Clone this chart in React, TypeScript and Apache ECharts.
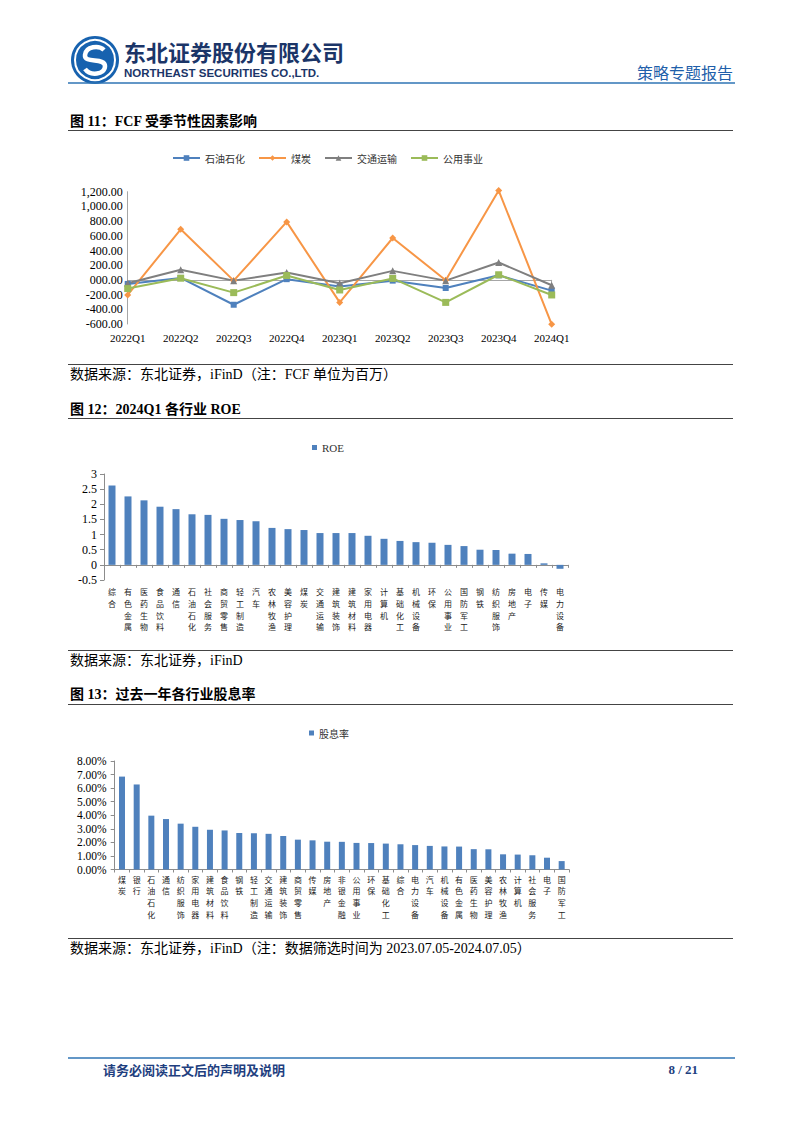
import React, { useEffect, useRef } from "react";
import * as echarts from "echarts";

// ---------- data ----------
const quarters = ["2022Q1", "2022Q2", "2022Q3", "2022Q4", "2023Q1", "2023Q2", "2023Q3", "2023Q4", "2024Q1"];
const fcfOil = [-55, 27, -338, 10, -91, -10, -110, 62, -146];
const fcfCoal = [-205, 689, -10, 789, -306, 570, -5, 1215, -605];
const fcfTransport = [-45, 137, -10, 100, -45, 123, -10, 237, -73];
const fcfUtility = [-118, 23, -173, 59, -137, 20, -306, 70, -205];
const fcfTicks = { min: -600, max: 1200, step: 200 };

const roeIndustries = ["综合", "有色金属", "医药生物", "食品饮料", "通信", "石油石化", "社会服务", "商贸零售", "轻工制造", "汽车", "农林牧渔", "美容护理", "煤炭", "交通运输", "建筑装饰", "建筑材料", "家用电器", "计算机", "基础化工", "机械设备", "环保", "公用事业", "国防军工", "钢铁", "纺织服饰", "房地产", "电子", "传媒", "电力设备"];
const roeValues = [2.62, 2.26, 2.13, 1.92, 1.84, 1.67, 1.65, 1.52, 1.48, 1.44, 1.22, 1.18, 1.15, 1.05, 1.05, 1.05, 0.96, 0.86, 0.79, 0.75, 0.73, 0.66, 0.62, 0.5, 0.49, 0.37, 0.36, 0.05, -0.13];
const roeTicks = { min: -0.5, max: 3, step: 0.5 };

const divIndustries = ["煤炭", "银行", "石油石化", "通信", "纺织服饰", "家用电器", "建筑材料", "食品饮料", "钢铁", "轻工制造", "交通运输", "建筑装饰", "商贸零售", "传媒", "房地产", "非银金融", "公用事业", "环保", "基础化工", "综合", "电力设备", "汽车", "机械设备", "有色金属", "医药生物", "美容护理", "农林牧渔", "计算机", "社会服务", "电子", "国防军工"];
const divValues = [6.85, 6.27, 3.97, 3.72, 3.38, 3.15, 2.93, 2.88, 2.69, 2.68, 2.63, 2.47, 2.2, 2.15, 2.05, 2.04, 1.96, 1.95, 1.91, 1.86, 1.8, 1.74, 1.7, 1.69, 1.5, 1.49, 1.12, 1.1, 1.05, 0.87, 0.62];
const divTicks = { min: 0, max: 8, step: 1 };

// ---------- styles ----------
const SERIF = "'Liberation Serif', 'Times New Roman', 'Noto Sans CJK SC', serif";
const CJK = "'Noto Sans CJK SC', sans-serif";
const BLUE = "#4F81BD";
const ORANGE = "#F79646";
const GRAY = "#7F7F7F";
const GREEN = "#9BBB59";
const AXIS = "#8C8C8C";

echarts.graphic.registerShape(
  "logoS",
  echarts.graphic.extendPath("M 9 -10 C 4 -15 -9 -14 -10 -5 C -11 4 10 -3 10 6 C 10 15 -5 16 -10 9", {})
);

function fmtFcf(v: number): string {
  if (v === 0) return "000.00";
  const s = Math.abs(v).toLocaleString("en-US", { minimumFractionDigits: 2, maximumFractionDigits: 2 });
  return (v < 0 ? "-" : "") + s;
}
const stacked = (v: string) => v.split("").join("\n");

function txt(text: string, x: number, y: number, font: string, fill = "#000", align = "left") {
  return { type: "text", silent: true, style: { text, x, y, font, fill, align, verticalAlign: "middle" } };
}
function hline(x1: number, x2: number, y: number, stroke: string, lineWidth = 1) {
  return { type: "line", silent: true, shape: { x1, y1: y, x2, y2: y }, style: { stroke, lineWidth } };
}

export default function App() {
  const ref = useRef<HTMLDivElement>(null);
  useEffect(() => {
    if (!ref.current) return;
    const chart = echarts.init(ref.current, undefined, { renderer: "svg" });
    const lineSeries = (name: string, data: number[], color: string, symbol: string, size: number) => ({
      name,
      type: "line",
      xAxisIndex: 0,
      yAxisIndex: 0,
      data,
      symbol,
      symbolSize: size,
      clip: false,
      lineStyle: { color, width: 2 },
      itemStyle: { color },
    });
    const catLabel = {
      interval: 0, fontSize: 8, lineHeight: 11.6, fontFamily: CJK, color: "#222",
      formatter: stacked, verticalAlign: "top",
    };
    const option: any = {
      animation: false,
      backgroundColor: "#fff",
      grid: [
        { left: 127.7, top: 191.7, width: 424, height: 132.3 },
        { left: 104, top: 474, width: 464, height: 106 },
        { left: 114.7, top: 761, width: 454.3, height: 108.5 },
      ],
      legend: [
        {
          data: ["石油石化", "煤炭", "交通运输", "公用事业"],
          left: 172, top: 153, padding: 0, itemWidth: 27, itemHeight: 7, itemGap: 13,
          textStyle: { fontSize: 10, fontFamily: CJK, color: "#333" },
        },
        {
          data: ["ROE"], left: 312, top: 442, padding: 0, icon: "rect", itemWidth: 5, itemHeight: 5,
          textStyle: { fontSize: 11, fontFamily: SERIF, color: "#333" },
        },
        {
          data: ["股息率"], left: 309, top: 728, padding: 0, icon: "rect", itemWidth: 5, itemHeight: 5,
          textStyle: { fontSize: 10, fontFamily: CJK, color: "#333" },
        },
      ],
      xAxis: [
        {
          gridIndex: 0, type: "category", data: quarters, boundaryGap: false,
          axisLine: { show: false, onZero: false }, axisTick: { show: false },
          axisLabel: { fontSize: 11, fontFamily: SERIF, color: "#000", margin: 8 },
        },
        {
          gridIndex: 0, type: "category", data: quarters, boundaryGap: false, position: "bottom",
          axisLine: { show: true, onZero: true, lineStyle: { color: "#A6A6A6" } },
          axisTick: { show: true, length: 3, lineStyle: { color: "#A6A6A6" } },
          axisLabel: { show: false },
        },
        {
          gridIndex: 1, type: "category", data: roeIndustries,
          axisLine: { show: false, onZero: false }, axisTick: { show: false },
          axisLabel: { ...catLabel, margin: 6 },
        },
        {
          gridIndex: 1, type: "category", data: roeIndustries, position: "bottom",
          axisLine: { show: true, onZero: true, lineStyle: { color: AXIS } },
          axisTick: { show: true, length: 3, interval: 0, lineStyle: { color: AXIS } },
          axisLabel: { show: false },
        },
        {
          gridIndex: 2, type: "category", data: divIndustries,
          axisLine: { show: true, lineStyle: { color: AXIS } },
          axisTick: { show: true, length: 3, interval: 0, lineStyle: { color: AXIS } },
          axisLabel: { ...catLabel, margin: 4 },
        },
      ],
      yAxis: [
        {
          gridIndex: 0, type: "value", min: fcfTicks.min, max: fcfTicks.max, interval: fcfTicks.step,
          axisLine: { show: true, lineStyle: { color: "#A6A6A6" } }, axisTick: { show: false },
          splitLine: { show: false },
          axisLabel: { formatter: fmtFcf, fontSize: 12, fontFamily: SERIF, color: "#000", margin: 5 },
        },
        {
          gridIndex: 1, type: "value", min: roeTicks.min, max: roeTicks.max, interval: roeTicks.step,
          axisLine: { show: true, lineStyle: { color: AXIS } },
          axisTick: { show: true, length: 4, lineStyle: { color: AXIS } },
          splitLine: { show: false },
          axisLabel: { fontSize: 12, fontFamily: SERIF, color: "#000", margin: 7 },
        },
        {
          gridIndex: 2, type: "value", min: divTicks.min, max: divTicks.max, interval: divTicks.step,
          axisLine: { show: true, lineStyle: { color: AXIS } },
          axisTick: { show: true, length: 4, lineStyle: { color: AXIS } },
          splitLine: { show: false },
          axisLabel: { formatter: (v: number) => v.toFixed(2) + "%", fontSize: 11.5, fontFamily: SERIF, color: "#000", margin: 8 },
        },
      ],
      series: [
        lineSeries("石油石化", fcfOil, BLUE, "rect", 6),
        lineSeries("煤炭", fcfCoal, ORANGE, "diamond", 7),
        lineSeries("交通运输", fcfTransport, GRAY, "triangle", 7),
        lineSeries("公用事业", fcfUtility, GREEN, "rect", 7),
        {
          name: "ROE", type: "bar", xAxisIndex: 2, yAxisIndex: 1, data: roeValues,
          barWidth: 7, itemStyle: { color: BLUE },
        },
        {
          name: "股息率", type: "bar", xAxisIndex: 4, yAxisIndex: 2, data: divValues,
          barWidth: 6, itemStyle: { color: BLUE },
        },
      ],
      graphic: [
        { type: "circle", silent: true, shape: { cx: 95, cy: 60, r: 24 }, style: { fill: "#1762AF" } },
        { type: "circle", silent: true, shape: { cx: 95, cy: 60, r: 20 }, style: { fill: "none", stroke: "#fff", lineWidth: 2 } },
        { type: "logoS", silent: true, x: 95, y: 60, style: { fill: "none", stroke: "#fff", lineWidth: 4.5 } },
        txt("东北证券股份有限公司", 124, 51, `bold 22px ${CJK}`, "#1B3568"),
        txt("NORTHEAST SECURITIES CO.,LTD.", 124, 72.5, "bold 11.5px 'Liberation Sans', Arial, sans-serif", "#1B3568"),
        txt("策略专题报告", 733, 72, `16px ${CJK}`, "#1F5FAA", "right"),
        hline(68, 735, 83, "#2F75B5", 1.5),

        txt("图 11：FCF 受季节性因素影响", 70, 121, `bold 14px ${SERIF}`),
        hline(68, 733, 130.5, "#444", 1),
        hline(68, 733, 364.5, "#444", 1),
        txt("数据来源：东北证券，iFinD（注：FCF 单位为百万）", 70, 374, `14px ${SERIF}`),

        txt("图 12：2024Q1 各行业 ROE", 70, 409, `bold 14px ${SERIF}`),
        hline(68, 733, 418.5, "#444", 1),
        hline(68, 733, 650.5, "#444", 1),
        txt("数据来源：东北证券，iFinD", 70, 660, `14px ${SERIF}`),

        txt("图 13：过去一年各行业股息率", 70, 694, `bold 14px ${SERIF}`),
        hline(68, 733, 704.5, "#444", 1),
        hline(68, 733, 938.5, "#444", 1),
        txt("数据来源：东北证券，iFinD（注：数据筛选时间为 2023.07.05-2024.07.05）", 70, 948, `14px ${SERIF}`),

        hline(68, 735, 1058, "#2F75B5", 1.5),
        txt("请务必阅读正文后的声明及说明", 103, 1069, `bold 13px ${CJK}`, "#1F3F7F"),
        txt("8 / 21", 698, 1069, `bold 13px ${SERIF}`, "#1F3F7F", "right"),
      ],
    };
    chart.setOption(option);
    return () => chart.dispose();
  }, []);
  return (
    <div
      ref={ref}
      style={{ position: "absolute", left: 0, top: 0, width: 802, height: 1133, background: "#fff" }}
    />
  );
}
